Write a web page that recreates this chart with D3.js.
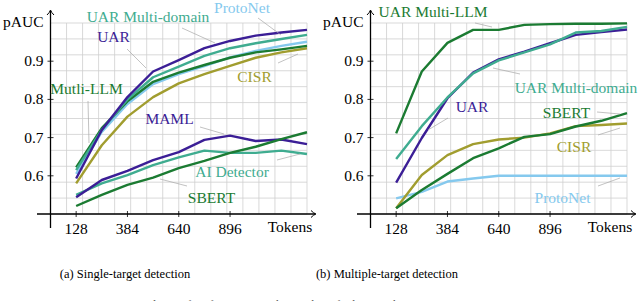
<!DOCTYPE html>
<html><head><meta charset="utf-8">
<script src="https://cdn.jsdelivr.net/npm/d3@7"></script>
<style>body{margin:0;background:#fff}svg{display:block}</style>
</head><body>
<script>
const tokens = [128,256,384,512,640,768,896,1024,1152,1280];
const xTicks = [128,384,640,896];
const yTicks = [0.6,0.7,0.8,0.9];

// (a) Single-target detection
const aUAR        = [0.593,0.720,0.806,0.873,0.903,0.934,0.953,0.967,0.975,0.982];
const aMultiDomain= [0.615,0.720,0.800,0.858,0.886,0.914,0.934,0.947,0.958,0.969];
const aProtoNet   = [0.605,0.715,0.788,0.840,0.866,0.887,0.910,0.927,0.940,0.951];
const aMultiLLM   = [0.622,0.725,0.795,0.846,0.870,0.890,0.909,0.923,0.931,0.940];
const aCISR       = [0.580,0.680,0.755,0.806,0.842,0.866,0.888,0.909,0.923,0.934];
const aMAML       = [0.544,0.589,0.613,0.641,0.662,0.694,0.705,0.691,0.695,0.683];
const aAIDetector = [0.550,0.580,0.602,0.628,0.648,0.666,0.660,0.660,0.666,0.657];
const aSBERT      = [0.521,0.550,0.576,0.595,0.620,0.639,0.660,0.676,0.696,0.714];

// (b) Multiple-target detection
const bMultiLLM   = [0.711,0.873,0.948,0.982,0.982,0.995,0.997,0.998,0.998,0.999];
const bUAR        = [0.582,0.699,0.803,0.870,0.905,0.925,0.947,0.969,0.976,0.983];
const bMultiDomain= [0.644,0.730,0.805,0.868,0.902,0.923,0.944,0.975,0.979,0.990];
const bSBERT      = [0.515,0.563,0.605,0.646,0.672,0.702,0.709,0.729,0.744,0.764];
const bCISR       = [0.515,0.602,0.654,0.683,0.695,0.700,0.711,0.730,0.733,0.737];
const bProtoNet   = [0.541,0.558,0.585,0.593,0.600,0.600,0.600,0.600,0.600,0.600];

const C = {uar:"#3b1e96", dom:"#3fac90", llm:"#1b7b32", proto:"#85c9ee", cisr:"#a19d2f"};
const FONT = "'Liberation Serif','Times New Roman','DejaVu Serif',serif";

const W=640,H=301;
const svg = d3.select("body").append("svg").attr("width",W).attr("height",H)
  .attr("font-family",FONT).style("font-family",FONT);

const x = d3.scaleLinear().domain([0,1280]).range([50.5,307]);
const y = d3.scaleLinear().domain([0.5,1.0]).range([214,23]);

function panel(g, series, labels, caption){
  const gx = d3.range(0,1281,80), gy = d3.range(0,13).map(i=>0.5+i/24);
  g.append("g").selectAll("line").data(gx).join("line")
    .attr("x1",d=>x(d)).attr("x2",d=>x(d)).attr("y1",y(0.5)).attr("y2",y(1))
    .attr("stroke","#cfcfcf").attr("stroke-width",0.8);
  g.append("g").selectAll("line").data(gy).join("line")
    .attr("y1",d=>y(d)).attr("y2",d=>y(d)).attr("x1",x(0)).attr("x2",x(1280))
    .attr("stroke","#cfcfcf").attr("stroke-width",0.8);
  g.append("line").attr("x1",37).attr("x2",315).attr("y1",y(0.5)).attr("y2",y(0.5)).attr("stroke","#000").attr("stroke-width",1.3);
  g.append("line").attr("x1",x(0)).attr("x2",x(0)).attr("y1",228).attr("y2",11).attr("stroke","#000").attr("stroke-width",1.3);
  g.append("path").attr("d",`M${311},${y(0.5)-3.5} Q${313.5},${y(0.5)-0.8} 316,${y(0.5)} Q${313.5},${y(0.5)+0.8} 311,${y(0.5)+3.5}`).attr("fill","none").attr("stroke","#000").attr("stroke-width",1);
  g.append("path").attr("d",`M${x(0)-3.5},15 Q${x(0)-0.8},12.5 ${x(0)},10 Q${x(0)+0.8},12.5 ${x(0)+3.5},15`).attr("fill","none").attr("stroke","#000").attr("stroke-width",1);
  g.append("g").selectAll("line").data(xTicks).join("line")
    .attr("x1",d=>x(d)).attr("x2",d=>x(d)).attr("y1",y(0.5)-3).attr("y2",y(0.5)+3).attr("stroke","#000").attr("stroke-width",0.8);
  g.append("g").selectAll("text").data(xTicks).join("text")
    .attr("x",d=>x(d)).attr("y",233.5).attr("text-anchor","middle").attr("font-size",15.5).text(d=>d);
  g.append("g").selectAll("line").data(yTicks).join("line")
    .attr("y1",d=>y(d)).attr("y2",d=>y(d)).attr("x1",x(0)-3).attr("x2",x(0)+3).attr("stroke","#000").attr("stroke-width",0.8);
  g.append("g").selectAll("text").data(yTicks).join("text")
    .attr("x",43.5).attr("y",d=>y(d)+5).attr("text-anchor","end").attr("font-size",15.5).text(d=>d.toFixed(1));
  g.append("text").attr("x",43.5).attr("y",27).attr("text-anchor","end").attr("font-size",15.5).text("pAUC");
  g.append("text").attr("x",290).attr("y",232).attr("text-anchor","middle").attr("font-size",15.5).text("Tokens");
  const line = d3.line().x((d,i)=>x(tokens[i])).y(d=>y(d));
  series.forEach(s=>{
    g.append("path").datum(s.v).attr("d",line).attr("fill","none").attr("stroke",s.c).attr("stroke-width",2.4).attr("stroke-linejoin","round");
  });
  labels.forEach(l=>{
    g.append("line").attr("x1",l.l[0]).attr("y1",l.l[1]).attr("x2",l.l[2]).attr("y2",l.l[3]).attr("stroke","#a8a8a8").attr("stroke-width",0.7);
    g.append("text").attr("x",l.x).attr("y",l.y).attr("text-anchor","middle").attr("font-size",15.5).attr("fill",l.c).text(l.t);
  });
  g.append("text").attr("x",caption.x).attr("y",277.5).attr("text-anchor","middle").attr("font-size",12.5).text(caption.t);
}

const gA = svg.append("g");
panel(gA,[
  {v:aCISR,c:C.cisr},{v:aProtoNet,c:C.proto},{v:aMultiLLM,c:C.llm},{v:aMultiDomain,c:C.dom},{v:aUAR,c:C.uar},
  {v:aAIDetector,c:C.dom},{v:aMAML,c:C.uar},{v:aSBERT,c:C.llm}
],[
  {t:"ProtoNet",c:C.proto,x:242,y:12.5,l:[258,18,281,35]},
  {t:"UAR Multi-domain",c:C.dom,x:148,y:21.5,l:[182,28,215,43]},
  {t:"UAR",c:C.uar,x:113.5,y:41.5,l:[127,49,146,68]},
  {t:"Mutli-LLM",c:C.llm,x:86.5,y:94,l:[88,101,89,143]},
  {t:"CISR",c:C.cisr,x:254.5,y:82,l:[278,63,298,54]},
  {t:"MAML",c:C.uar,x:169.5,y:124,l:[200,127,224,134]},
  {t:"AI Detector",c:C.dom,x:232,y:176.5,l:[277,160,300,154]},
  {t:"SBERT",c:C.llm,x:211.5,y:203,l:[160,179,187,186]}
],{t:"(a) Single-target detection",x:125});

const gB = svg.append("g").attr("transform","translate(320,0)");
panel(gB,[
  {v:bProtoNet,c:C.proto},{v:bCISR,c:C.cisr},{v:bSBERT,c:C.llm},{v:bUAR,c:C.uar},{v:bMultiDomain,c:C.dom},{v:bMultiLLM,c:C.llm}
],[
  {t:"UAR Multi-LLM",c:C.llm,x:113,y:16.5,l:[155,23,172,27]},
  {t:"UAR Multi-domain",c:C.dom,x:256,y:93,l:[173,68,200,74]},
  {t:"UAR",c:C.uar,x:152,y:112,l:[108,130,128,118]},
  {t:"SBERT",c:C.llm,x:246.5,y:118,l:[277,112,300,114]},
  {t:"CISR",c:C.cisr,x:254,y:152,l:[278,135,300,128]},
  {t:"ProtoNet",c:C.proto,x:242.5,y:203,l:[278,186,300,178]}
],{t:"(b) Multiple-target detection",x:67});

svg.append("text").attr("x",72).attr("y",309).attr("font-size",12).attr("fill","#555")
  .text("Figure 3: Dependence of performance on the number of tokens in the input text.");
</script>
</body></html>
